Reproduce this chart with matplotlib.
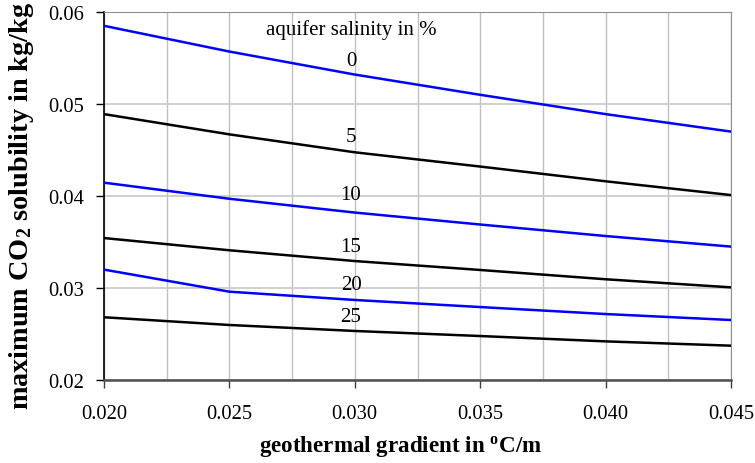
import matplotlib
matplotlib.use("Agg")
import matplotlib.pyplot as plt
import numpy as np

plt.rcParams['font.family'] = ['Liberation Serif', 'DejaVu Serif']
plt.rcParams['mathtext.fontset'] = 'custom'
plt.rcParams['mathtext.rm'] = 'Liberation Serif'
plt.rcParams['mathtext.bf'] = 'Liberation Serif:bold'
plt.rcParams['mathtext.it'] = 'Liberation Serif:italic'

gradient = [0.020, 0.025, 0.030, 0.035, 0.040, 0.045]
salinity_labels = ['0', '5', '10', '15', '20', '25']
sol_0 = [0.0585, 0.0557, 0.0532, 0.0510, 0.0489, 0.0470]
sol_5 = [0.0489, 0.0467, 0.04475, 0.0432, 0.0416, 0.0401]
sol_10 = [0.04145, 0.0397, 0.0382, 0.0369, 0.03565, 0.0345]
sol_15 = [0.03543, 0.0341, 0.03293, 0.03196, 0.03095, 0.03007]
sol_20 = [0.0320, 0.0296, 0.0287, 0.02793, 0.02717, 0.02652]
sol_25 = [0.02682, 0.02598, 0.02533, 0.02478, 0.0242, 0.02373]
series = [sol_0, sol_5, sol_10, sol_15, sol_20, sol_25]
colors = ['#0000ff', '#000000', '#0000ff', '#000000', '#0000ff', '#000000']
label_y = [0.0547, 0.0465, 0.0402, 0.03453, 0.03036, 0.02692]
label_x = 0.02985

fig = plt.figure(figsize=(7.55, 4.64), dpi=100)
ax = fig.add_axes([104/755, 1-381/464, (731-104)/755, (381-13)/464])

for s, c in zip(series, colors):
    ax.plot(gradient, s, color=c, lw=1.8, zorder=3)

for lab, y in zip(salinity_labels, label_y):
    ax.text(label_x, y, lab, ha='center', va='center', fontsize=15, zorder=4)
ax.text(0.02985, 0.0582, 'aquifer salinity in %', ha='center', va='center', fontsize=15, zorder=4)

ax.set_xlim(0.020, 0.045)
ax.set_ylim(0.02, 0.06)
ax.set_xticks([0.020, 0.025, 0.030, 0.035, 0.040, 0.045])
ax.set_xticklabels(['0.020', '0.025', '0.030', '0.035', '0.040', '0.045'])
ax.set_xticks(np.arange(0.0225, 0.045, 0.005), minor=True)
ax.set_yticks([0.02, 0.03, 0.04, 0.05, 0.06])
ax.set_yticklabels(['0.02', '0.03', '0.04', '0.05', '0.06'])

ax.grid(True, which='both', axis='x', color='#c0c0c0', lw=1.0, zorder=0)
ax.grid(True, which='major', axis='y', color='#c8c8c8', lw=1.2, zorder=0)
ax.tick_params(axis='x', which='minor', length=0)
ax.tick_params(axis='both', which='major', direction='out', length=6, labelsize=14.8, width=1)
ax.tick_params(axis='x', pad=11, color='#404040')
ax.tick_params(axis='y', pad=8, color='black')

ax.spines['left'].set_color('black')
ax.spines['left'].set_linewidth(1.2)
ax.spines['bottom'].set_color('#505050')
ax.spines['bottom'].set_linewidth(1.8)
ax.spines['top'].set_color('#909090')
ax.spines['right'].set_color('#909090')

fig.text(401/755, 1-447/464, r'geothermal gradient in $^{\mathbf{o}}$C/m',
         ha='center', va='center', fontsize=16.6, fontweight='bold')
fig.text(22/755, 1-206/464, r'maximum CO$_{\mathbf{2}}$ solubility in kg/kg',
         ha='center', va='center', rotation=90, fontsize=20.3, fontweight='bold')

fig.savefig('out.png', dpi=100)
